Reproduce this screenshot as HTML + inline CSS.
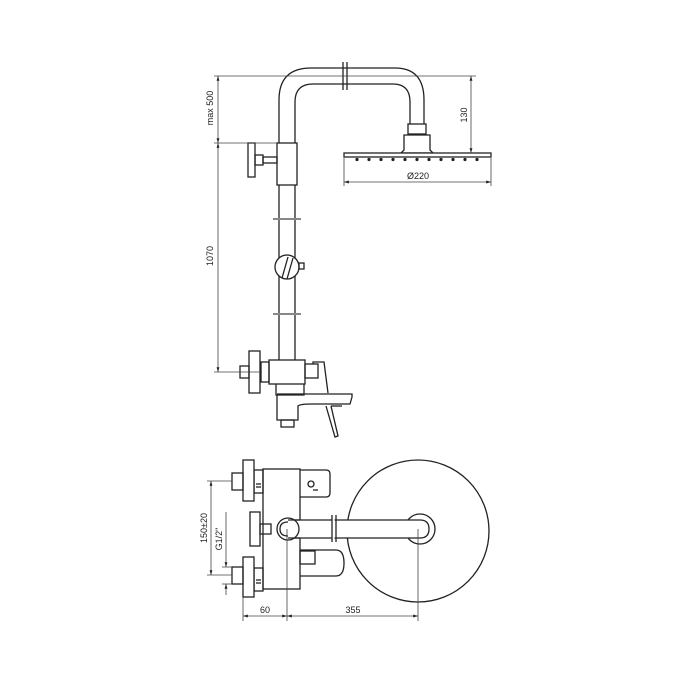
<!DOCTYPE html>
<html><head><meta charset="utf-8"><style>
html,body{margin:0;padding:0;background:#fff}
svg{display:block}
text{font-family:"Liberation Sans",sans-serif;font-size:9px;fill:#222}
</style></head><body>
<svg width="700" height="700" viewBox="0 0 700 700" xmlns="http://www.w3.org/2000/svg">
<defs>
<marker id="a" viewBox="0 0 10 10" refX="10" refY="5" markerWidth="6" markerHeight="6" orient="auto-start-reverse"><path d="M0,2 L10,5 L0,8 z" fill="#222"/></marker>
</defs>
<g fill="none" stroke="#222" stroke-width="1.3">
<!-- top pipe -->
<path d="M279,143 V100 Q279,68 311,68 H395 Q424,68 424,100 V124"/>
<path d="M295,143 V102 Q295,84 313,84 H393 Q410,84 410,102 V124"/>
<line x1="343" y1="62" x2="343" y2="90"/><line x1="347" y1="62" x2="347" y2="90"/>
<rect x="408" y="124" width="18" height="10" fill="#fff"/>
<path d="M404,135 H430 V150 L433,153 H401 L404,150 Z" fill="#fff"/>
<rect x="344" y="153" width="147" height="4" fill="#fff"/>
</g>
<g fill="#222">
<circle cx="357" cy="159.5" r="1.6"/><circle cx="369" cy="159.5" r="1.6"/><circle cx="381" cy="159.5" r="1.6"/><circle cx="393" cy="159.5" r="1.6"/><circle cx="405" cy="159.5" r="1.6"/><circle cx="417" cy="159.5" r="1.6"/><circle cx="429" cy="159.5" r="1.6"/><circle cx="441" cy="159.5" r="1.6"/><circle cx="453" cy="159.5" r="1.6"/><circle cx="465" cy="159.5" r="1.6"/><circle cx="477" cy="159.5" r="1.6"/>
</g>
<g fill="none" stroke="#222" stroke-width="1.3">
<!-- column -->
<line x1="279" y1="185" x2="279" y2="360"/><line x1="295" y1="185" x2="295" y2="360"/>
<rect x="277" y="143" width="20" height="42" fill="#fff"/>
<rect x="248" y="143" width="7" height="34" fill="#fff"/>
<rect x="255" y="155" width="8" height="10"/><rect x="263" y="157" width="14" height="6"/>
<line x1="273" y1="219" x2="301" y2="219" stroke="#888" stroke-width="2"/>
<line x1="273" y1="314" x2="301" y2="314" stroke="#888" stroke-width="2"/>
<circle cx="287" cy="267" r="12" fill="#fff"/>
<line x1="282" y1="278" x2="288" y2="257"/><line x1="287" y1="279" x2="293" y2="258"/>
<rect x="299" y="263" width="5" height="6"/>
<!-- lower mixer -->
<rect x="269" y="360" width="36" height="24" fill="#fff"/>
<rect x="261" y="362" width="8" height="20"/>
<rect x="249" y="351" width="11" height="42" fill="#fff"/>
<rect x="240" y="366" width="9" height="12"/>
<path d="M276,384 V395 H304 V384"/>
<path d="M277,395 V420 H298 V406 Q300,404 312,404 H350 L352,397 V394 H277"/>
<rect x="281" y="420" width="13" height="7"/>
<rect x="305" y="364" width="13" height="14"/>
<path d="M313,364 L313,362 H324 L328,393"/>
<path d="M326,406 L335,437 L338,436 L331,406"/>
<line x1="331" y1="406" x2="342" y2="406"/>
</g>
<!-- dims top -->
<g stroke="#444" stroke-width="0.8" fill="none">
<line x1="214" y1="76" x2="476" y2="76"/>
<line x1="214" y1="143" x2="277" y2="143"/>
<line x1="214" y1="372" x2="262" y2="372"/>
<line x1="218" y1="76" x2="218" y2="143" marker-start="url(#a)" marker-end="url(#a)"/>
<line x1="218" y1="143" x2="218" y2="372" marker-start="url(#a)" marker-end="url(#a)"/>
<line x1="471" y1="76" x2="471" y2="153" marker-start="url(#a)" marker-end="url(#a)"/>
<line x1="344" y1="158" x2="344" y2="186"/><line x1="491" y1="158" x2="491" y2="186"/>
<line x1="344" y1="182" x2="491" y2="182" marker-start="url(#a)" marker-end="url(#a)"/>
</g>
<text x="213" y="108" text-anchor="middle" transform="rotate(-90 213 108)">max 500</text>
<text x="213" y="256" text-anchor="middle" transform="rotate(-90 213 256)">1070</text>
<text x="467" y="115" text-anchor="middle" transform="rotate(-90 467 115)">130</text>
<text x="418" y="179" text-anchor="middle">Ø220</text>
<!-- bottom view -->
<g fill="none" stroke="#222" stroke-width="1.3">
<circle cx="418" cy="531" r="71"/>
<rect x="263" y="469" width="37" height="120" fill="#fff"/>
<rect x="254" y="470" width="9" height="23"/><rect x="254" y="568" width="9" height="23"/>
<line x1="256" y1="484" x2="261" y2="484"/><line x1="256" y1="487" x2="261" y2="487"/>
<line x1="256" y1="580" x2="261" y2="580"/><line x1="256" y1="583" x2="261" y2="583"/>
<rect x="243" y="460" width="11" height="41" fill="#fff"/>
<rect x="232" y="473" width="11" height="17"/>
<rect x="243" y="557" width="11" height="40" fill="#fff"/>
<rect x="232" y="567" width="11" height="17"/>
<rect x="250" y="512" width="10" height="34"/>
<rect x="260" y="524" width="11" height="10"/>
<path d="M300,470 H326 Q330,470 330,474 V493 Q330,497 326,497 H300"/>
<circle cx="311" cy="484" r="3"/>
<line x1="313" y1="490" x2="318" y2="490"/>
<path d="M300,550 H336 Q344,550 344,563 Q344,576 336,576 H300"/>
<rect x="300" y="551" width="15" height="13"/>
<circle cx="420" cy="529" r="15" fill="#fff"/>
<path d="M288,520 H420 Q429,520 429,529 Q429,538 420,538 H288" fill="#fff"/>
<circle cx="288" cy="529" r="11" fill="#fff"/>
<path d="M288,520 H300 M288,538 H300"/>
<path d="M288,522 Q280,522 280,529 Q280,536 288,536"/>
<line x1="333" y1="518" x2="333" y2="540" stroke="#fff" stroke-width="3"/>
<line x1="332" y1="515" x2="332" y2="542"/><line x1="336" y1="515" x2="336" y2="542"/>
</g>
<g stroke="#444" stroke-width="0.8" fill="none">
<line x1="207" y1="481" x2="232" y2="481"/>
<line x1="207" y1="575" x2="232" y2="575"/>
<line x1="211" y1="481" x2="211" y2="575" marker-start="url(#a)" marker-end="url(#a)"/>
<line x1="222" y1="567" x2="232" y2="567"/><line x1="222" y1="584" x2="232" y2="584"/>
<line x1="226" y1="512" x2="226" y2="567" marker-end="url(#a)"/>
<line x1="226" y1="595" x2="226" y2="584" marker-end="url(#a)"/>
<line x1="243" y1="597" x2="243" y2="621"/>
<line x1="287" y1="529" x2="287" y2="621"/>
<line x1="418" y1="529" x2="418" y2="621"/>
<line x1="243" y1="616" x2="287" y2="616" marker-start="url(#a)" marker-end="url(#a)"/>
<line x1="287" y1="616" x2="418" y2="616" marker-start="url(#a)" marker-end="url(#a)"/>
</g>
<text x="207" y="528" text-anchor="middle" transform="rotate(-90 207 528)">150±20</text>
<text x="222" y="539" text-anchor="middle" transform="rotate(-90 222 539)">G1/2"</text>
<text x="265" y="613" text-anchor="middle">60</text>
<text x="353" y="613" text-anchor="middle">355</text>
</svg>
</body></html>
